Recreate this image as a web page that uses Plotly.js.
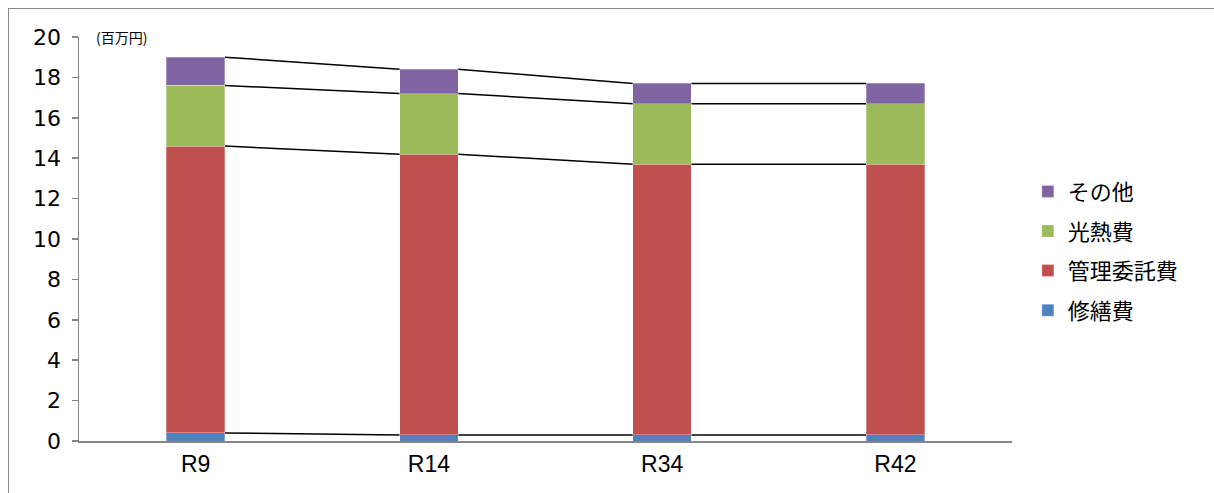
<!DOCTYPE html>
<html><head><meta charset="utf-8">
<script src="https://cdn.plot.ly/plotly-3.0.1.min.js"></script>
<style>
body{margin:0;background:#fff;}
#frame{position:absolute;left:8px;top:8px;width:1400px;height:700px;border:1.5px solid #8a8a8a;}
#chart{position:absolute;left:0;top:0;width:1214px;height:493px;}
</style></head>
<body><div id="frame"></div><div id="chart"></div>
<script>
const categories = ['R9','R14','R34','R42'];
const repair = [0.4, 0.3, 0.3, 0.3];        // 修繕費
const management = [14.2, 13.9, 13.4, 13.4]; // 管理委託費
const utilities = [3.0, 3.0, 3.0, 3.0];      // 光熱費
const other = [1.4, 1.2, 1.0, 1.0];          // その他
const seriesNames = ['修繕費','管理委託費','光熱費','その他'];
const colors = ['#4F81BD','#C0504D','#9BBB59','#8064A2'];
const seriesValues = [repair, management, utilities, other];

const cjk = '"Noto Sans CJK JP",sans-serif';
const barWidth = 0.25;

const traces = seriesValues.map((vals, k) => ({
  type: 'bar', x: categories, y: vals, name: seriesNames[k],
  legendgroup: 'g' + k,
  legendrank: 1000 - k,
  width: barWidth,
  marker: {color: colors[k], line: {color: 'rgba(255,255,255,0.6)', width: 0.5}},
  hoverinfo: 'skip'
}));

// series lines connecting cumulative tops
const shapes = [];
let cum = categories.map(() => 0);
seriesValues.forEach(vals => {
  cum = cum.map((c, i) => c + vals[i]);
  for (let i = 0; i < categories.length - 1; i++) {
    shapes.push({type: 'line', xref: 'x', yref: 'y',
      x0: i + barWidth / 2, x1: i + 1 - barWidth / 2,
      y0: cum[i], y1: cum[i + 1],
      line: {color: '#000', width: 1.5}, layer: 'below'});
  }
});

const layout = {
  width: 1214, height: 493,
  margin: {l: 79, r: 202, t: 37, b: 52},
  paper_bgcolor: 'rgba(0,0,0,0)', plot_bgcolor: 'rgba(0,0,0,0)',
  barmode: 'stack',
  showlegend: true,
  font: {family: '"DejaVu Sans",sans-serif', color: '#000', size: 20},
  xaxis: {type: 'category', showgrid: false, zeroline: false,
    showline: true, linecolor: '#868686', linewidth: 1.5,
    ticks: '', tickfont: {size: 23, family: '"Liberation Sans",sans-serif'},
    ticklabelstandoff: 2},
  yaxis: {range: [0, 20], dtick: 2, showgrid: false, zeroline: false,
    showline: true, linecolor: '#868686', linewidth: 1.5,
    ticks: 'outside', ticklen: 6, tickcolor: '#868686', tickwidth: 1.5,
    tickfont: {size: 22, family: '"DejaVu Sans",sans-serif'},
    ticklabelstandoff: 6},
  legend: {x: 1.017, xanchor: 'left', y: 0.47, yanchor: 'middle',
    traceorder: 'grouped', tracegroupgap: 8,
    font: {size: 22, family: cjk},
    itemwidth: 30},
  annotations: [{xref: 'paper', yref: 'paper', x: 0.016, y: 1.0,
    xanchor: 'left', yanchor: 'middle', showarrow: false,
    text: '(百万円)', font: {size: 14, family: cjk, color: '#000'}}],
  shapes: shapes
};
Plotly.newPlot('chart', traces, layout, {displayModeBar: false, staticPlot: true});
</script></body></html>
